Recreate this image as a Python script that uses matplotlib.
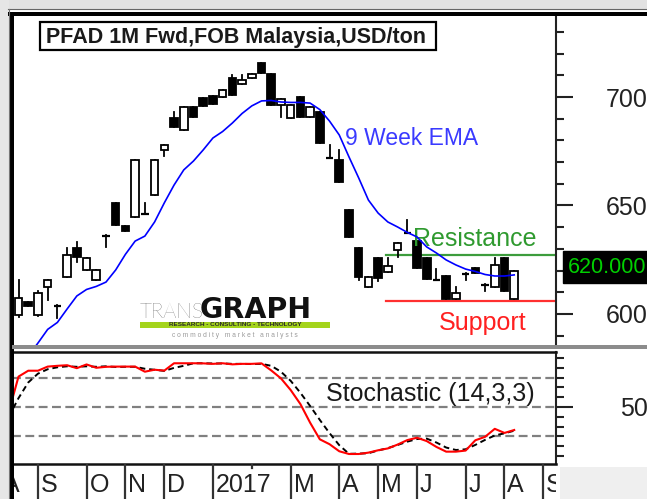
import numpy as np
import matplotlib

matplotlib.use("Agg")
import matplotlib.pyplot as plt
from matplotlib.patches import Rectangle
from matplotlib.transforms import blended_transform_factory

plt.rcParams["font.family"] = ["Liberation Sans", "DejaVu Sans"]

# weekly PFAD bars, index 0 = week ending 19 Aug 2016
opens = [599.5, 605.5, 599.5, 612.4, 603.6, 617.0, 630.4, 620.3, 615.7, 636.0,
         651.0, 640.6, 644.7, 646.0, 654.8, 675.6, 690.3, 684.8, 695.4, 699.5,
         700.5, 700.0, 708.8, 706.0, 708.8, 715.7, 710.6, 696.3, 690.3, 700.0,
         690.8, 693.0, 672.0, 671.0, 648.0, 630.4, 612.4, 625.8, 619.4, 629.5,
         637.3, 633.5, 626.0, 615.5, 617.5, 607.0, 618.5, 621.0, 613.5, 612.4,
         625.8, 606.9]
highs = [615.7, 605.5, 610.5, 615.7, 604.0, 630.4, 633.3, 625.8, 620.3, 636.2,
         651.0, 640.6, 671.0, 651.0, 671.0, 678.0, 693.0, 695.4, 695.4, 699.5,
         700.5, 703.2, 710.0, 710.0, 710.6, 715.7, 710.6, 699.0, 696.3, 700.0,
         695.4, 693.0, 678.0, 675.6, 648.0, 630.4, 617.0, 625.8, 625.8, 632.7,
         643.3, 633.5, 626.0, 620.5, 617.5, 612.4, 618.7, 621.0, 613.7, 625.8,
         626.0, 620.0]
lows = [598.6, 603.7, 599.0, 606.5, 598.0, 617.0, 624.1, 620.3, 615.7, 631.0,
        641.0, 638.3, 644.7, 646.0, 654.8, 673.0, 686.2, 684.8, 690.8, 696.0,
        697.0, 700.0, 701.0, 706.0, 708.8, 711.0, 696.3, 690.8, 690.3, 690.8,
        690.8, 678.8, 672.0, 661.0, 635.5, 615.7, 612.4, 615.2, 619.4, 626.3,
        637.3, 621.0, 616.0, 615.5, 607.0, 607.0, 615.7, 619.0, 610.5, 612.4,
        610.5, 606.9]
closes = [607.4, 603.7, 609.8, 615.7, 603.8, 627.2, 626.3, 625.8, 620.3, 636.2,
          641.0, 638.3, 671.0, 646.2, 671.0, 678.0, 686.2, 695.4, 690.8, 696.0,
          697.0, 703.2, 701.0, 708.0, 710.6, 711.0, 696.3, 699.0, 696.3, 690.8,
          695.4, 678.8, 672.2, 661.0, 635.5, 617.0, 617.0, 616.6, 622.0, 632.7,
          637.5, 621.0, 616.0, 615.7, 607.0, 609.5, 618.7, 619.0, 613.7, 622.6,
          610.5, 620.0]
ema9 = [575.1, 580.6, 586.6, 592.9, 596.1, 602.3, 608.3, 611.3, 612.7, 614.7,
        620.3, 627.5, 633.6, 635.9, 642.4, 651.2, 659.4, 666.4, 670.5, 675.6,
        681.1, 684.1, 688.0, 692.4, 695.9, 698.2, 698.4, 697.7, 697.5, 697.5,
        697.2, 694.2, 688.9, 682.5, 672.4, 662.7, 652.5, 646.5, 642.4, 640.1,
        637.6, 635.5, 630.9, 628.1, 624.9, 622.6, 620.7, 619.6, 618.2, 617.5,
        617.5, 618.0]

# stochastic (14,3,3), starts one week before the first bar
stoch_x = list(range(-1, 52))
stoch_k = [45, 81, 87, 87, 91.2, 92, 92.6, 89.6, 93.4, 90, 91, 91.2, 91.2, 91.2,
           86, 88, 87.1, 94.6, 94.6, 94.6, 94.5, 94, 94.6, 93.5, 94, 94, 94.5,
           87.3, 79.2, 67.3, 53, 34, 17, 12, 4.8, 2, 2, 3.4, 5.8, 7.7, 11.6, 16.2,
           18.6, 15.2, 9.2, 4.4, 4.4, 5.5, 16, 19.5, 27.7, 23.5, 26.5]
stoch_d = [40, 59, 75, 84, 88.5, 90.5, 91.5, 91, 91.5, 91, 91.5, 90.8, 91, 91,
           89, 88, 86.8, 89.9, 92, 94.6, 94.6, 94.4, 94.4, 94, 94, 93.8, 94,
           92, 86, 76.7, 64.5, 51, 36.8, 23.3, 11, 2.2, 2.4, 2.8, 5.6, 8, 11.2,
           14.6, 17.3, 17.7, 13.7, 8.6, 6.1, 6.8, 11.3, 16.4, 20.9, 23.1, 25.8]
stoch_levels = [20, 50, 80]

month_start = [-2, 2, 7, 11, 15, 20, 24, 28, 33, 37, 41, 46, 50, 54]
month_labels = ["A", "S", "O", "N", "D", "2017", "", "M", "A", "M", "J", "J", "A", "S"]

resistance = 627.4
support = 606.2
level_from = 37.8
price_ticks = [600, 650, 700]

W, H = 647, 499
fig = plt.figure(figsize=(W / 100, H / 100), dpi=100)


def box(l, t, r, b):
    return [l / W, 1 - b / H, (r - l) / W, (b - t) / H]


bg = fig.add_axes([0, 0, 1, 1], zorder=-10)
bg.set_xlim(0, W)
bg.set_ylim(H, 0)
bg.axis("off")
bg.add_patch(Rectangle((0, 0), W, 10, color="#e2e2e2", lw=0))
bg.add_patch(Rectangle((0, 0), 9, H, color="#e6e6e6", lw=0))
bg.add_patch(Rectangle((560, 467), W - 560, H - 467, color="#efefef", lw=0))

ax = fig.add_axes(box(12, 15, 556, 345))
ax_s = fig.add_axes(box(12, 352, 556, 464))
ax_m = fig.add_axes(box(12, 464, 556, 499))
xlim = (-0.67, 55.3)

# ---- candles
w = 0.78
for i, (o, h, l, c) in enumerate(zip(opens, highs, lows, closes)):
    if abs(c - o) < 0.5:
        ax.plot([i - w / 2, i + w / 2], [o, o], color="black", lw=1.6, zorder=3,
                solid_capstyle="butt")
        ax.plot([i, i], [l, h], color="black", lw=1.3, zorder=3)
        continue
    ax.plot([i, i], [l, h], color="black", lw=1.3, zorder=2)
    up = c > o
    ax.add_patch(Rectangle((i - w / 2, min(o, c)), w, abs(c - o),
                           facecolor="white" if up else "black", edgecolor="black",
                           lw=1.3, zorder=3))

ax.plot(range(len(ema9)), ema9, color="#0000ff", lw=1.2, zorder=4)
ax.plot([level_from, xlim[1] + 1], [resistance, resistance], color="#3c9c3c", lw=1.6, zorder=1)
ax.plot([level_from, xlim[1] + 1], [support, support], color="#ff3030", lw=1.6, zorder=1)

ax.text(33.6, 677.9, "9 Week EMA", color="#3a3aff", fontsize=16.5, ha="left", va="baseline")
ax.text(40.6, 631.3, "Resistance", color="#2f9a2f", fontsize=18, ha="left", va="baseline")
ax.text(43.2, 592.6, "Support", color="#ff2020", fontsize=18, ha="left", va="baseline")

# title box
ax.add_patch(Rectangle((0.0515, 0.894), 0.7279, 0.085, transform=ax.transAxes,
                       facecolor="white", edgecolor="black", lw=1.6, zorder=5))
ax.text(0.0625, 0.915, "PFAD 1M Fwd,FOB Malaysia,USD/ton", transform=ax.transAxes,
        fontsize=15.5, fontweight="bold", color="#1a1a1a", ha="left", va="baseline", zorder=6)

# logo
ax.text(0.235, 0.082, "TRANS", transform=ax.transAxes, fontsize=15, family=["Lato", "DejaVu Sans"],
        fontweight="light", color="#262626", ha="left", va="baseline")
ax.text(0.3456, 0.082, "GRAPH", transform=ax.transAxes, fontsize=20.5,
        family=["DejaVu Sans"], fontweight="bold", color="#111111", ha="left", va="baseline")
ax.add_patch(Rectangle((0.235, 0.0515), 0.35, 0.0185, transform=ax.transAxes,
                       facecolor="#a4d41c", lw=0, zorder=2))
ax.text(0.41, 0.0607, "RESEARCH - CONSULTING - TECHNOLOGY", transform=ax.transAxes,
        fontsize=4.6, fontweight="bold", color="#2a2a2a", ha="center", va="center", zorder=3)
ax.text(0.41, 0.028, "c o m m o d i t y   m a r k e t   a n a l y s t s", transform=ax.transAxes,
        fontsize=4.8, color="#9a9a9a", ha="center", va="center")

ax.set_xlim(*xlim)
ax.set_ylim(585.7, 737.8)
ax.set_xticks([])
for s in ["top", "left", "bottom"]:
    ax.spines[s].set_visible(False)
ax.spines["right"].set_color("#222222")
ax.spines["right"].set_linewidth(1.5)
ax.yaxis.tick_right()
ax.set_yticks(price_ticks)
ax.set_yticklabels([str(t) for t in price_ticks])
ax.set_yticks(np.arange(590, 740, 10), minor=True)
ax.tick_params(axis="y", which="major", length=12, width=1.5, colors="#222222",
               labelsize=18, pad=54)
ax.tick_params(axis="y", which="minor", length=6, width=1.5, colors="#222222")
plt.setp(ax.get_yticklabels(), ha="right")

tr = blended_transform_factory(ax.transAxes, ax.transData)
ax.text(1.0 + 12 / 544, closes[-1] + 1.6, f"{closes[-1]:.3f}", transform=tr, color="#00d000",
        fontsize=15.5, ha="left", va="center", clip_on=False,
        bbox=dict(boxstyle="square,pad=0.25", facecolor="black", edgecolor="black"))

# ---- stochastic
for v in stoch_levels:
    ax_s.axhline(v, color="#808080", lw=1.6, ls=(0, (4, 2)), zorder=1)
ax_s.plot(stoch_x, stoch_d, color="black", lw=1.4, ls=(0, (3, 2)), zorder=2)
ax_s.plot(stoch_x, stoch_k, color="#ff0000", lw=1.5, zorder=3)
ax_s.text(31.6, 56, "Stochastic (14,3,3)", fontsize=18, color="#1a1a1a", ha="left", va="baseline")
ax_s.set_xlim(*xlim)
ax_s.set_ylim(-8.2, 106.1)
ax_s.set_xticks([])
ax_s.spines["left"].set_visible(False)
for s in ["top", "bottom"]:
    ax_s.spines[s].set_linewidth(1.8)
    ax_s.spines[s].set_color("#111111")
ax_s.spines["right"].set_color("#222222")
ax_s.spines["right"].set_linewidth(1.5)
ax_s.yaxis.tick_right()
ax_s.set_yticks([50])
ax_s.set_yticklabels(["50"])
ax_s.set_yticks(np.arange(0, 101, 10), minor=True)
ax_s.tick_params(axis="y", which="major", length=12, width=1.5, colors="#222222",
                 labelsize=18, pad=54)
ax_s.tick_params(axis="y", which="minor", length=6, width=1.5, colors="#222222")
plt.setp(ax_s.get_yticklabels(), ha="right")

# ---- month band
ax_m.set_xlim(*xlim)
ax_m.set_ylim(0, 1)
ax_m.axis("off")
for m, lab in zip(month_start, month_labels):
    bottom = 0.0 if lab else 0.88
    ax_m.plot([m, m], [bottom, 1.0], color="#333333", lw=1.6, clip_on=True)
    if lab:
        ax_m.text(m + 0.3 if m >= 0 else -0.7, 0.2, lab, fontsize=18, color="#222222",
                  ha="left" if m >= 0 else "center", va="baseline", clip_on=True)

# ---- frame lines
ov = fig.add_axes([0, 0, 1, 1], zorder=20)
ov.set_xlim(0, W)
ov.set_ylim(H, 0)
ov.axis("off")
ov.patch.set_alpha(0)
ov.add_patch(Rectangle((8, 11.5), W, 4, color="black", lw=0))
ov.plot([8, W], [8.8, 8.8], color="#666666", lw=0.8)
ov.plot([8.5, 8.5], [8.8, H], color="#777777", lw=0.8)
ov.add_patch(Rectangle((10, 11.5), 3.6, H, color="black", lw=0))
ov.add_patch(Rectangle((12, 345), W - 12, 3.5, color="#8c8c8c", lw=0))

fig.savefig("out.png", dpi=100)
